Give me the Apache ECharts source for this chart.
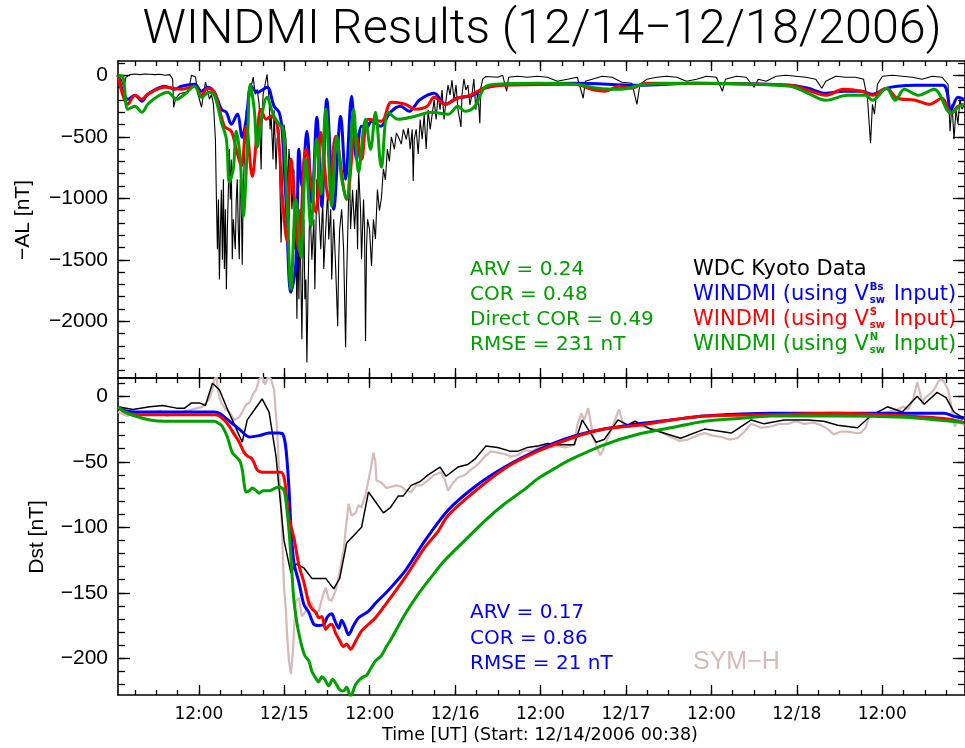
<!DOCTYPE html>
<html>
<head>
<meta charset="utf-8">
<script src="https://cdn.jsdelivr.net/npm/echarts@6/dist/echarts.min.js"></script>
<style>
html,body{margin:0;padding:0;background:#fff;}
#chart{width:965px;height:748px;}
</style>
</head>
<body>
<div id="chart"></div>
<script>
// ---------------- DATA ----------------
// time axis: hours since 12/14/2006 00:00 (start 00:38)
const X_MIN = 0.633, X_MAX = 119.633;
const xMajorHours = [12, 24, 36, 48, 60, 72, 84, 96, 108];
const xMajorLabels = ['12:00', '12/15', '12:00', '12/16', '12:00', '12/17', '12:00', '12/18', '12:00'];
const xMinorHours = [3,6,9,12,15,18,21,24,27,30,33,36,39,42,45,48,51,54,57,60,63,66,69,72,75,78,81,84,87,90,93,96,99,102,105,108,111,114,117];

const alRange = [-2461, 116];
const alTicks = [0, -500, -1000, -1500, -2000];
const alMinor = [100,0,-100,-200,-300,-400,-500,-600,-700,-800,-900,-1000,-1100,-1200,-1300,-1400,-1500,-1600,-1700,-1800,-1900,-2000,-2100,-2200,-2300,-2400];
const dstRange = [-228, 14];
const dstTicks = [0, -50, -100, -150, -200];
const dstMinor = [10,0,-10,-20,-30,-40,-50,-60,-70,-80,-90,-100,-110,-120,-130,-140,-150,-160,-170,-180,-190,-200,-210,-220];

// -AL, WDC Kyoto data
const alKyoto = [[0.63,0],[1.05,-30],[1.47,-100],[1.75,-15],[2.31,5],[3.01,10],[3.71,5],[4.4,10],[5.1,8],[5.8,5],[6.5,8],[7.2,0],[7.9,5],[8.31,-30],[8.45,-260],[8.73,-190],[9.29,-150],[9.99,-140],[10.41,-150],[10.69,-75],[10.97,0],[11.25,15],[11.53,-15],[11.81,-140],[12.09,-155],[12.37,-260],[12.64,-155],[12.92,-55],[13.2,-115],[13.48,-195],[13.76,-155],[14.04,-235],[14.32,-520],[14.46,-1010],[14.6,-1415],[14.74,-1010],[14.88,-1660],[15.02,-1250],[15.16,-930],[15.3,-1500],[15.44,-845],[15.58,-1575],[15.72,-1090],[15.86,-1740],[16.0,-1250],[16.14,-930],[16.28,-600],[16.41,-1010],[16.55,-685],[16.69,-1495],[16.83,-1170],[17.11,-1415],[17.25,-1010],[17.39,-845],[17.53,-1250],[17.67,-1495],[17.81,-845],[17.95,-1010],[18.09,-1540],[18.23,-930],[18.37,-685],[18.51,-440],[18.65,-280],[18.79,-685],[18.93,-360],[19.07,-195],[19.35,-90],[19.63,-15],[19.91,-155],[20.18,-115],[20.46,-235],[20.74,-765],[20.88,-360],[21.02,-155],[21.3,-75],[21.58,8],[21.86,-195],[22.0,-440],[22.14,-320],[22.42,-685],[22.56,-280],[22.84,-765],[22.98,-520],[23.26,-440],[23.4,-930],[23.54,-1360],[23.82,-765],[23.96,-400],[24.23,-520],[24.51,-930],[24.65,-600],[24.93,-845],[25.07,-1090],[25.35,-765],[25.49,-1415],[25.63,-1335],[25.77,-1980],[25.91,-1255],[26.05,-1820],[26.19,-1090],[26.33,-1660],[26.47,-2145],[26.61,-1500],[26.75,-1170],[26.89,-1820],[27.03,-1660],[27.17,-2335],[27.31,-1820],[27.45,-1415],[27.59,-1010],[27.87,-1500],[28.15,-1170],[28.29,-1740],[28.57,-845],[28.85,-1090],[29.12,-1415],[29.4,-1010],[29.54,-1575],[29.82,-1250],[30.1,-930],[30.24,-1335],[30.52,-1090],[30.66,-1660],[30.94,-1170],[31.22,-1575],[31.5,-2040],[31.64,-1495],[31.78,-1250],[32.06,-1090],[32.33,-1415],[32.61,-2210],[32.75,-1660],[33.03,-1010],[33.17,-765],[33.31,-1250],[33.59,-930],[33.87,-1250],[34.15,-930],[34.29,-1415],[34.43,-765],[34.71,-1090],[34.85,-1495],[35.13,-1010],[35.27,-1250],[35.41,-2160],[35.55,-1400],[35.69,-1170],[35.97,-1250],[36.25,-1550],[36.52,-1170],[36.8,-1330],[37.08,-930],[37.36,-1100],[37.64,-1000],[37.92,-760],[38.2,-850],[38.48,-600],[38.76,-700],[39.04,-500],[39.46,-600],[39.74,-470],[40.02,-500],[40.44,-560],[40.72,-440],[41.14,-520],[41.41,-430],[41.69,-600],[41.97,-440],[42.11,-860],[42.25,-520],[42.53,-440],[42.81,-640],[43.09,-360],[43.37,-520],[43.65,-320],[43.93,-600],[44.21,-280],[44.49,-440],[44.77,-320],[45.05,-200],[45.32,-360],[45.6,-160],[45.88,-280],[46.16,-120],[46.44,-360],[46.72,-200],[47.0,-80],[47.28,-160],[47.56,-40],[47.84,-200],[48.12,-80],[48.4,-280],[48.82,-420],[48.96,-160],[49.23,-30],[49.51,-120],[49.79,-80],[50.07,-240],[50.35,-160],[50.63,-30],[50.91,-280],[51.19,-120],[51.47,-390],[51.61,-100],[51.89,-30],[52.31,-10],[52.59,0],[53.98,-16],[54.68,0],[55.24,-130],[55.52,-16],[56.77,-8],[58.17,-16],[59.57,-8],[60.97,-16],[62.36,-49],[63.76,-33],[65.16,-16],[66.0,-187],[66.28,-49],[67.25,-33],[68.65,-8],[70.05,-16],[71.44,-57],[72.84,-65],[73.54,-236],[73.96,-73],[74.93,-33],[76.33,-16],[77.72,-8],[79.12,-16],[80.52,-49],[81.92,-33],[83.31,-8],[84.71,-16],[85.55,-130],[85.97,-33],[87.5,-8],[88.9,-16],[90.02,-98],[90.58,-33],[91.69,-49],[93.09,-8],[94.49,0],[95.88,-8],[97.28,-16],[98.68,-33],[99.52,-106],[100.07,-49],[101.47,-8],[102.86,-16],[104.26,-16],[105.38,-33],[105.94,-195],[106.36,-553],[106.63,-236],[106.91,-317],[107.33,-73],[108.03,-8],[109.43,0],[110.82,-8],[112.22,-16],[113.62,-33],[115.01,-8],[116.41,-16],[117.25,-73],[117.53,-455],[117.81,-236],[118.09,-520],[118.37,-276],[118.64,-398],[118.92,-195],[119.2,-276],[119.48,-250]];

// -AL, WINDMI with V_sw^Bs input (blue)
const alWindmiBs = [[0.63,0],[2.03,-195],[3.01,-163],[3.99,-211],[4.82,-154],[7.2,-89],[8.59,-114],[9.57,-89],[11.39,-73],[12.37,-130],[13.2,-98],[14.18,-138],[15.16,-276],[15.86,-301],[16.55,-398],[17.39,-317],[18.09,-504],[18.65,-358],[19.35,-89],[20.18,-138],[21.58,-98],[22.56,-252],[23.26,-301],[23.68,-439],[24.23,-1008],[24.93,-1764],[25.63,-1520],[26.05,-602],[26.47,-902],[27.17,-455],[27.87,-1032],[28.57,-341],[29.26,-1065],[29.96,-195],[30.94,-1089],[31.92,-333],[32.61,-846],[33.45,-171],[34.15,-683],[34.85,-415],[35.55,-423],[36.25,-374],[37.5,-415],[38.9,-301],[40.3,-252],[41.55,-293],[42.95,-203],[45.05,-146],[46.6,-236],[48.26,-187],[50.49,-163],[52.03,-106],[54.96,-73],[65.02,-65],[73.68,-81],[81.92,-65],[95.05,-81],[97.56,-106],[100.07,-146],[102.58,-130],[105.1,-130],[106.63,-154],[108.59,-106],[110.13,-89],[112.64,-81],[116.55,-81],[117.67,-276],[118.64,-179],[119.48,-195]];

// -AL, WINDMI with V_sw^S input (red)
const alWindmiS = [[0.63,0],[2.03,-236],[3.01,-163],[3.99,-195],[4.82,-154],[7.2,-98],[9.57,-114],[11.39,-89],[12.37,-163],[13.2,-106],[14.18,-138],[15.58,-415],[16.55,-455],[17.25,-602],[17.95,-740],[18.65,-415],[19.49,-821],[20.18,-463],[20.74,-276],[21.44,-358],[22.14,-333],[22.98,-398],[23.68,-951],[24.37,-1350],[24.93,-683],[26.05,-1431],[27.03,-602],[28.43,-1114],[29.12,-463],[30.24,-1008],[31.22,-496],[32.75,-1008],[34.01,-463],[34.85,-683],[35.83,-358],[37.64,-374],[39.04,-220],[41.0,-236],[42.39,-276],[44.07,-252],[45.05,-179],[46.6,-236],[48.26,-187],[50.07,-163],[52.03,-106],[54.96,-81],[65.02,-73],[67.11,-114],[69.07,-130],[71.02,-89],[72.56,-106],[74.93,-65],[95.05,-81],[97.56,-122],[100.07,-163],[102.58,-114],[105.1,-130],[106.63,-163],[108.59,-106],[110.13,-187],[112.64,-203],[114.6,-236],[116.41,-187],[117.67,-309],[118.64,-252],[119.48,-236]];

// -AL, WINDMI with V_sw^N input (green)
const alWindmiN = [[0.63,0],[1.33,-16],[2.03,-276],[3.01,-252],[3.99,-301],[4.82,-236],[6.22,-171],[7.62,-138],[8.87,-195],[9.99,-154],[11.39,-89],[12.37,-179],[13.49,-138],[14.18,-163],[15.16,-382],[15.86,-520],[16.28,-870],[16.83,-764],[17.25,-455],[17.81,-683],[18.23,-1146],[18.79,-602],[19.21,-73],[19.77,-276],[20.18,-585],[20.74,-358],[21.58,-179],[22.42,-317],[23.26,-398],[23.82,-439],[24.37,-1008],[24.93,-1740],[25.63,-1008],[26.33,-1480],[27.03,-683],[27.73,-1228],[28.57,-520],[29.12,-967],[29.82,-276],[30.66,-1065],[31.36,-496],[32.06,-846],[32.75,-1008],[33.73,-276],[34.43,-789],[35.41,-358],[36.11,-602],[36.8,-301],[37.64,-748],[38.62,-301],[40.02,-358],[42.39,-333],[44.63,-301],[47.0,-317],[48.4,-252],[49.37,-293],[50.77,-252],[52.17,-98],[53.98,-73],[59.57,-65],[65.02,-73],[68.09,-106],[71.02,-114],[74.93,-73],[81.92,-65],[95.05,-89],[97.56,-146],[100.07,-203],[103.14,-163],[105.66,-163],[106.63,-203],[108.59,-106],[109.85,-203],[111.1,-114],[113.06,-163],[115.29,-114],[117.67,-309],[118.64,-260],[119.48,-236]];

// Dst, WDC Kyoto (black)
const dstKyoto = [[0.63,-8],[2.73,-10],[5.1,-8],[6.92,-7],[8.87,-9],[9.99,-9],[10.97,-5],[12.09,-5],[12.92,-7],[13.9,10],[14.88,5],[15.86,-8],[16.69,-18],[18.09,-35],[18.79,-18],[20.88,-2],[21.86,-12],[22.84,-46],[23.96,-110],[24.93,-135],[25.63,-128],[26.75,-131],[27.87,-139],[29.82,-139],[30.94,-147],[31.78,-139],[32.75,-112],[34.85,-100],[35.83,-73],[37.92,-89],[38.9,-85],[40.02,-76],[40.72,-76],[41.83,-68],[43.09,-65],[44.21,-60],[45.88,-54],[46.72,-61],[48.4,-54],[49.79,-52],[50.77,-48],[52.31,-38],[53.98,-39],[55.8,-42],[56.77,-42],[58.17,-39],[59.57,-38],[60.97,-36],[62.36,-37],[64.74,-37],[65.86,-18],[67.81,-35],[68.93,-33],[70.88,-18],[72.28,-22],[73.26,-19],[75.49,-25],[77.86,-29],[79.68,-32],[83.03,-25],[86.8,-28],[89.6,-18],[91.41,-21],[94.2,-18],[97.56,-18],[99.8,-19],[101.75,-22],[104.54,-24],[106.36,-15],[108.73,-8],[110.82,-12],[112.92,0],[113.9,-6],[115.71,3],[116.97,-1],[118.09,-12],[118.92,-15],[119.48,-16]];

// SYM-H (rosy)
const symH = [[0.63,-12],[1.89,-15],[3.71,-12],[5.1,-13],[6.5,-11],[7.48,-15],[8.59,-13],[9.71,-12],[11.11,-10],[12.5,-8],[13.48,-2],[13.9,5],[14.18,13],[14.46,15],[14.74,2],[15.16,-5],[15.72,-10],[16.28,-12],[16.97,-18],[17.67,-16],[18.09,-12],[18.65,-6],[19.07,-5],[19.63,2],[20.05,5],[20.46,13],[20.88,15],[21.3,9],[21.72,15],[22.14,13],[22.56,5],[22.98,-25],[23.26,-56],[23.54,-82],[23.96,-146],[24.23,-164],[24.37,-181],[24.65,-202],[24.93,-212],[25.21,-195],[25.35,-179],[25.63,-156],[26.05,-154],[26.47,-168],[27.03,-164],[27.45,-156],[27.87,-158],[28.43,-165],[28.85,-164],[29.4,-152],[29.82,-146],[30.24,-155],[30.66,-156],[31.22,-148],[31.64,-138],[32.06,-125],[32.33,-118],[32.75,-95],[33.03,-82],[33.45,-91],[34.01,-89],[34.43,-83],[34.85,-85],[35.41,-75],[35.83,-64],[36.25,-52],[36.52,-43],[36.8,-50],[36.94,-64],[37.64,-66],[38.34,-70],[39.04,-69],[39.74,-68],[40.44,-69],[41.14,-72],[41.83,-73],[42.53,-68],[43.23,-68],[44.21,-64],[45.05,-60],[46.02,-58],[46.58,-64],[47.0,-72],[47.7,-66],[48.4,-62],[49.37,-60],[50.21,-56],[51.19,-52],[52.17,-46],[53.0,-42],[53.98,-43],[54.96,-44],[55.8,-46],[56.77,-45],[57.75,-41],[58.87,-42],[60.13,-37],[61.25,-39],[62.36,-38],[63.48,-39],[64.74,-37],[65.16,-22],[65.72,-13],[66.14,-18],[66.69,-9],[67.11,-22],[67.39,-31],[67.95,-39],[68.37,-45],[68.79,-41],[69.49,-31],[70.19,-22],[71.02,-10],[71.44,-18],[71.72,-23],[72.7,-21],[73.68,-22],[74.93,-24],[76.05,-25],[77.16,-28],[78.28,-31],[79.54,-34],[80.66,-33],[81.92,-30],[83.03,-28],[84.15,-30],[85.41,-31],[86.52,-33],[87.64,-32],[88.62,-27],[89.6,-21],[91.0,-24],[92.39,-23],[93.51,-21],[94.76,-21],[95.88,-19],[97.0,-21],[98.26,-20],[99.38,-22],[100.35,-25],[101.19,-29],[102.17,-27],[103.14,-27],[104.26,-28],[104.96,-28],[105.66,-24],[106.22,-15],[107.05,-15],[107.75,-13],[108.87,-12],[110.13,-10],[110.96,-8],[111.66,-10],[112.36,-2],[112.92,11],[113.34,2],[113.62,-5],[114.04,-1],[114.74,2],[115.29,5],[115.85,11],[116.27,13],[116.69,11],[117.25,5],[117.67,-6],[117.95,-18],[118.23,-23],[118.64,-18],[118.92,-20],[119.48,-22]];

// Dst, WINDMI (blue / red / green)
const dstWindmiBs = [[0.63,-8],[1.61,-11],[3.71,-12],[6.5,-12],[9.29,-12],[12.09,-12],[14.18,-12],[14.88,-13],[16.28,-19],[17.67,-25],[19.07,-31],[20.46,-30],[21.86,-28],[23.26,-28],[23.82,-29],[24.23,-40],[24.65,-70],[24.93,-100],[25.35,-127],[26.05,-142],[26.75,-159],[27.45,-165],[28.15,-174],[28.85,-175],[29.54,-174],[30.1,-168],[30.66,-166],[31.08,-171],[31.64,-177],[32.06,-171],[32.47,-175],[33.03,-182],[33.73,-175],[34.43,-169],[35.83,-164],[36.8,-158],[38.62,-148],[41.0,-133],[43.79,-110],[47.0,-87],[50.77,-69],[54.96,-54],[59.57,-41],[64.32,-31],[68.93,-25],[73.68,-21],[78.28,-18],[83.03,-15],[92.39,-13],[101.75,-13],[111.1,-13],[116.69,-13],[117.95,-15],[119.48,-17]];
const dstWindmiS = [[0.63,-8],[1.61,-12],[3.71,-14],[12.09,-14],[14.18,-14],[14.88,-15],[15.72,-19],[16.28,-23],[16.97,-29],[17.67,-35],[18.37,-43],[18.93,-46],[19.35,-47],[19.77,-51],[20.18,-56],[20.88,-58],[22.28,-58],[23.54,-58],[23.96,-62],[24.23,-72],[24.65,-93],[25.35,-108],[26.05,-129],[26.75,-142],[27.45,-158],[27.87,-162],[28.43,-165],[28.85,-169],[29.26,-168],[29.82,-178],[30.24,-175],[30.66,-174],[31.22,-181],[31.64,-185],[32.33,-191],[32.75,-189],[33.31,-193],[34.01,-187],[34.85,-179],[35.83,-174],[36.8,-169],[38.62,-156],[41.0,-138],[43.79,-115],[45.6,-103],[47.0,-91],[50.21,-75],[54.96,-55],[59.57,-42],[64.32,-32],[68.93,-25],[73.68,-22],[83.03,-15],[92.39,-14],[101.75,-13],[111.1,-15],[116.69,-17],[119.48,-20]];
const dstWindmiN = [[0.63,-8],[1.61,-12],[3.01,-15],[5.1,-18],[7.2,-19],[12.09,-19],[14.18,-19],[14.88,-21],[15.3,-23],[16.0,-31],[16.69,-43],[17.39,-47],[17.81,-50],[18.09,-56],[18.65,-73],[19.07,-72],[19.49,-70],[20.05,-72],[20.46,-74],[21.02,-72],[21.86,-72],[23.26,-69],[23.96,-72],[24.37,-87],[24.65,-102],[24.93,-123],[25.35,-156],[25.77,-173],[26.05,-181],[26.47,-191],[26.89,-198],[27.45,-202],[27.87,-210],[28.29,-214],[28.85,-218],[29.26,-214],[29.68,-216],[30.24,-221],[30.8,-216],[31.22,-219],[31.78,-224],[32.33,-225],[32.75,-222],[33.31,-229],[34.01,-220],[34.85,-215],[35.55,-213],[36.11,-208],[36.8,-202],[37.22,-200],[37.64,-198],[38.34,-191],[39.04,-185],[41.0,-166],[42.81,-151],[44.63,-138],[46.58,-125],[49.37,-110],[52.17,-95],[54.96,-82],[57.75,-71],[59.57,-63],[62.0,-55],[64.32,-48],[68.93,-37],[73.68,-29],[78.28,-24],[83.03,-19],[87.64,-17],[92.39,-15],[101.75,-15],[111.1,-16],[115.71,-18],[119.48,-20]];

const topStats = ['ARV = 0.24', 'COR = 0.48', 'Direct COR = 0.49', 'RMSE = 231 nT'];
const bottomStats = ['ARV = 0.17', 'COR = 0.86', 'RMSE = 21 nT'];

// ---------------- STYLE ----------------
const BLUE = '#0000ff', RED = '#ff0000', GREEN = '#00a000', ROSY = '#d6b9b9';
const LEFT = 118, RIGHT = -5;
const G0_TOP = 61, G0_H = 317, G1_TOP = 378, G1_H = 317;

const chart = echarts.init(document.getElementById('chart'), null, {renderer: 'canvas'});

function xAxis(grid, pos, ticks, len, line, labels) {
  return {
    type: 'value', gridIndex: grid, position: pos, min: X_MIN, max: X_MAX,
    axisLine: {show: line, onZero: false, lineStyle: {color: '#000', width: 1.6}},
    axisTick: {show: true, inside: true, length: len, customValues: ticks, lineStyle: {color: '#000', width: 1.3}},
    axisLabel: labels ? {
      show: true, customValues: xMajorHours, margin: 11, color: '#000',
      fontFamily: 'DejaVu Sans', fontSize: 17,
      formatter: v => { const i = xMajorHours.indexOf(v); return i >= 0 ? xMajorLabels[i] : ''; }
    } : {show: false},
    splitLine: {show: false}
  };
}
function yAxis(grid, pos, range, ticks, len, line, labels) {
  return {
    type: 'value', gridIndex: grid, position: pos, min: range[0], max: range[1],
    axisLine: {show: line, onZero: false, lineStyle: {color: '#000', width: 1.6}},
    axisTick: {show: true, inside: true, length: len, customValues: ticks, lineStyle: {color: '#000', width: 1.3}},
    axisLabel: labels ? {
      show: true, customValues: labels, margin: 10, color: '#000',
      fontFamily: 'Liberation Sans', fontSize: 21,
      formatter: v => v === 0 ? '0' : '\u2212' + Math.abs(v)
    } : {show: false},
    splitLine: {show: false}
  };
}

const xAxes = [
  xAxis(0, 'bottom', xMajorHours, 10, true, false),
  xAxis(0, 'bottom', xMinorHours, 5, false, false),
  xAxis(0, 'top', xMajorHours, 10, true, false),
  xAxis(0, 'top', xMinorHours, 5, false, false),
  xAxis(1, 'bottom', xMajorHours, 10, true, true),
  xAxis(1, 'bottom', xMinorHours, 5, false, false),
  xAxis(1, 'top', xMajorHours, 10, true, false),
  xAxis(1, 'top', xMinorHours, 5, false, false)
];
const yAxes = [
  yAxis(0, 'left', alRange, alTicks, 12, true, alTicks),
  yAxis(0, 'left', alRange, alMinor, 7, false, null),
  yAxis(0, 'right', alRange, alTicks, 12, true, null),
  yAxis(0, 'right', alRange, alMinor, 7, false, null),
  yAxis(1, 'left', dstRange, dstTicks, 12, true, dstTicks),
  yAxis(1, 'left', dstRange, dstMinor, 7, false, null),
  yAxis(1, 'right', dstRange, dstTicks, 12, true, null),
  yAxis(1, 'right', dstRange, dstMinor, 7, false, null)
];

function line(data, xi, yi, color, width, smooth, z) {
  return {type: 'line', data: data, xAxisIndex: xi, yAxisIndex: yi, symbol: 'none',
    smooth: smooth, lineStyle: {color: color, width: width}, z: z, silent: true, clip: true};
}

const series = [
  line(alKyoto, 0, 0, '#000', 1.1, false, 2),
  line(alWindmiBs, 0, 0, BLUE, 3, 0.35, 3),
  line(alWindmiS, 0, 0, RED, 3, 0.35, 4),
  line(alWindmiN, 0, 0, GREEN, 3, 0.35, 5),
  line(symH, 4, 4, ROSY, 2.2, false, 2),
  line(dstKyoto, 4, 4, '#000', 1.5, false, 3),
  line(dstWindmiBs, 4, 4, BLUE, 3, 0.3, 4),
  line(dstWindmiS, 4, 4, RED, 3, 0.3, 5),
  line(dstWindmiN, 4, 4, GREEN, 3, 0.3, 6)
];

// ---------------- TEXT ----------------
const mctx = document.createElement('canvas').getContext('2d');
function tw(t, f) { mctx.font = f; return mctx.measureText(t).width; }
const F = '20px "DejaVu Sans"';
const FL = '21px "DejaVu Sans"';
const FS = 'bold 10px "DejaVu Sans"';
function txt(x, y, t, font, color) {
  return {type: 'text', x: x, y: y, silent: true,
    style: {text: t, font: font, fill: color, align: 'left', verticalAlign: 'middle'}};
}
const g = [];
g.push({type: 'text', x: 542, y: 31, silent: true,
  style: {text: 'WINDMI Results (12/14\u221212/18/2006)', font: '300 48.5px Roboto', fill: '#000', align: 'center', verticalAlign: 'middle'}});
g.push({type: 'text', x: 23, y: 220, rotation: Math.PI / 2, silent: true,
  style: {text: '\u2212AL [nT]', font: '21px "Liberation Sans"', fill: '#000', align: 'center', verticalAlign: 'middle'}});
g.push({type: 'text', x: 37, y: 537, rotation: Math.PI / 2, silent: true,
  style: {text: 'Dst [nT]', font: '21px "Liberation Sans"', fill: '#000', align: 'center', verticalAlign: 'middle'}});
g.push({type: 'text', x: 540, y: 735, silent: true,
  style: {text: 'Time [UT] (Start: 12/14/2006 00:38)', font: '17.5px "DejaVu Sans"', fill: '#000', align: 'center', verticalAlign: 'middle'}});

const topY = [270, 295, 320, 345];
topStats.forEach((t, i) => g.push(txt(470, topY[i], t, F, GREEN)));
g.push(txt(693, topY[0], 'WDC Kyoto Data', FL, '#000'));
function legendLine(y, sup, color) {
  const pre = 'WINDMI (using V';
  const x0 = 693, w1 = tw(pre, FL);
  const ws = Math.max(tw(sup, FS), tw('sw', FS));
  g.push(txt(x0, y, pre, FL, color));
  g.push(txt(x0 + w1 + 1, y - 8, sup, FS, color));
  g.push(txt(x0 + w1 + 1, y + 5, 'sw', FS, color));
  g.push(txt(x0 + w1 + 3 + ws, y, ' Input)', FL, color));
}
legendLine(topY[1], 'Bs', BLUE);
legendLine(topY[2], 'S', RED);
legendLine(topY[3], 'N', GREEN);

const botY = [613, 639, 664];
bottomStats.forEach((t, i) => g.push(txt(470, botY[i], t, F, BLUE)));
g.push(txt(693, 662, 'SYM\u2212H', '25px "Liberation Sans"', ROSY));

chart.setOption({
  animation: false,
  backgroundColor: '#fff',
  grid: [
    {left: LEFT, right: RIGHT, top: G0_TOP, height: G0_H, containLabel: false},
    {left: LEFT, right: RIGHT, top: G1_TOP, height: G1_H, containLabel: false}
  ],
  xAxis: xAxes,
  yAxis: yAxes,
  series: series,
  graphic: g
});
</script>
</body>
</html>
